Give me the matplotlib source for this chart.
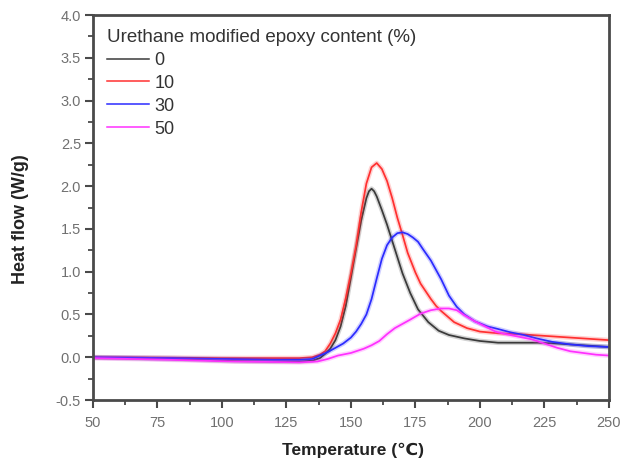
import matplotlib
matplotlib.use("Agg")
import matplotlib.pyplot as plt
from matplotlib.ticker import MultipleLocator, FormatStrFormatter

plt.rcParams['font.family'] = ['Liberation Sans', 'DejaVu Sans']

# DSC heat-flow curves for each urethane-modified epoxy content
series_labels = ["0", "10", "30", "50"]
series_colors = ["#3a3a3a", "#ff3030", "#2b2bff", "#ff30ff"]

temp_0 = [50, 70, 90, 105, 120, 130, 135, 138, 140, 142, 144, 146, 148, 150, 152, 154,
          156, 157, 158, 159, 160, 162, 164, 166, 168, 170, 173, 176, 180, 184, 188,
          194, 200, 207, 215, 222, 230, 240, 250]
flow_0 = [-0.005, -0.015, -0.03, -0.045, -0.05, -0.05, -0.04, -0.01, 0.04, 0.10, 0.20,
          0.36, 0.60, 0.93, 1.27, 1.60, 1.86, 1.94, 1.97, 1.94, 1.88, 1.72, 1.55, 1.36,
          1.17, 0.98, 0.75, 0.56, 0.41, 0.31, 0.26, 0.22, 0.19, 0.17, 0.17, 0.17, 0.16,
          0.14, 0.12]

temp_10 = [50, 80, 100, 120, 130, 135, 138, 140, 142, 144, 146, 148, 150, 152, 154, 156,
           158, 160, 162, 164, 166, 168, 170, 172, 175, 177, 179, 181, 183, 185, 190,
           195, 200, 207, 215, 225, 235, 250]
flow_10 = [0.0, -0.005, -0.01, -0.01, -0.01, 0.0, 0.03, 0.07, 0.16, 0.28, 0.44, 0.69,
           0.98, 1.30, 1.70, 2.03, 2.22, 2.27, 2.20, 2.06, 1.86, 1.63, 1.43, 1.22, 0.99,
           0.86, 0.77, 0.68, 0.60, 0.54, 0.41, 0.34, 0.30, 0.28, 0.27, 0.25, 0.23, 0.20]

temp_30 = [50, 80, 100, 120, 130, 135, 138, 141, 144, 147, 150, 152, 154, 156, 158, 160,
           162, 164, 166, 168, 170, 172, 174, 176, 178, 181, 183, 185, 188, 191, 194,
           198, 203, 207, 212, 217, 222, 228, 235, 242, 250]
flow_30 = [0.0, -0.01, -0.02, -0.03, -0.03, -0.02, 0.02, 0.06, 0.11, 0.16, 0.23, 0.30,
           0.39, 0.50, 0.68, 0.92, 1.15, 1.31, 1.40, 1.45, 1.46, 1.44, 1.40, 1.35, 1.26,
           1.13, 1.02, 0.91, 0.72, 0.59, 0.50, 0.42, 0.36, 0.33, 0.29, 0.26, 0.22, 0.18,
           0.15, 0.13, 0.12]

temp_50 = [50, 80, 105, 120, 130, 137, 141, 145, 150, 155, 158, 161, 164, 167, 170, 173,
           177, 181, 185, 188, 191, 194, 198, 202, 206, 210, 215, 220, 225, 230, 235,
           240, 245, 250]
flow_50 = [-0.01, -0.03, -0.05, -0.055, -0.06, -0.05, -0.02, 0.02, 0.05, 0.10, 0.14,
           0.19, 0.27, 0.34, 0.39, 0.44, 0.51, 0.55, 0.57, 0.57, 0.55, 0.49, 0.42, 0.36,
           0.30, 0.27, 0.24, 0.21, 0.16, 0.11, 0.07, 0.05, 0.03, 0.02]

temps = [temp_0, temp_10, temp_30, temp_50]
flows = [flow_0, flow_10, flow_30, flow_50]

fig = plt.figure(figsize=(6.23, 4.63), dpi=100)
ax = fig.add_axes([0.149, 0.136, 0.8285, 0.8316])

for t, f, c, lab in zip(temps, flows, series_colors, series_labels):
    ax.plot(t, f, color=c, lw=3.4, alpha=0.22, solid_capstyle='round')
    ax.plot(t, f, color=c, lw=1.25, label=lab)

ax.set_xlim(50, 250)
ax.set_ylim(-0.5, 4.0)
ax.xaxis.set_major_locator(MultipleLocator(25))
ax.xaxis.set_minor_locator(MultipleLocator(12.5))
ax.yaxis.set_major_locator(MultipleLocator(0.5))
ax.yaxis.set_minor_locator(MultipleLocator(0.25))
ax.yaxis.set_major_formatter(FormatStrFormatter('%.1f'))

frame_color = "#4a4a4a"
for sp in ax.spines.values():
    sp.set_color(frame_color)
    sp.set_linewidth(2.0)

ax.tick_params(which='major', direction='out', length=6, width=1.5, color=frame_color,
               labelsize=10.5, labelcolor="#707070")
ax.tick_params(axis='x', which='major', pad=5.5)
ax.tick_params(axis='y', which='major', pad=2.5)
ax.tick_params(which='minor', direction='out', length=3.5, width=1.3, color=frame_color)

ax.set_xlabel("Temperature (\u2103)", fontsize=12.5, fontweight='bold', color="#222222")
ax.set_ylabel("Heat flow (W/g)", fontsize=13, fontweight='bold', color="#222222")
ax.xaxis.set_label_coords(0.504, -0.13)
ax.yaxis.set_label_coords(-0.14, 0.47)
ax.xaxis.label.set_verticalalignment('center')
ax.yaxis.label.set_verticalalignment('center')

leg = ax.legend(title="Urethane modified epoxy content (%)", loc='upper left',
                bbox_to_anchor=(0.027, 0.964), frameon=False, fontsize=13,
                title_fontsize=13.5, alignment='left', handlelength=2.35,
                handletextpad=0.28, labelspacing=0.33, borderaxespad=0.0,
                borderpad=0.0)
for txt in leg.get_texts():
    txt.set_color("#333333")
leg.get_title().set_color("#333333")
for line in leg.get_lines():
    line.set_linewidth(1.1)

fig.savefig("out.png", dpi=100)
